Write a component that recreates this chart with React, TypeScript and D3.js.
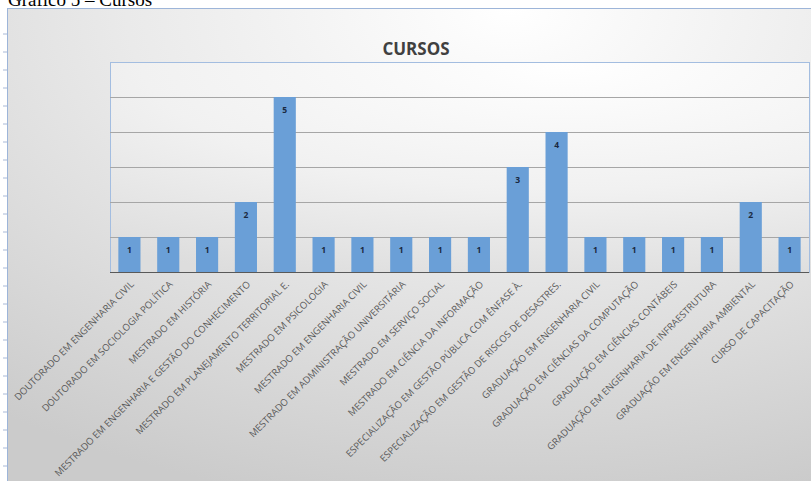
import React from "react";
import * as d3 from "d3";

const categories = [
  "DOUTORADO EM ENGENHARIA CIVIL",
  "DOUTORADO EM SOCIOLOGIA POLÍTICA",
  "MESTRADO EM HISTÓRIA",
  "MESTRADO EM ENGENHARIA E GESTÃO DO CONHECIMENTO",
  "MESTRADO EM PLANEJAMENTO TERRITORIAL E.",
  "MESTRADO EM PSICOLOGIA",
  "MESTRADO EM ENGENHARIA CIVIL",
  "MESTRADO EM ADMINISTRAÇÃO UNIVERSITÁRIA",
  "MESTRADO EM SERVIÇO SOCIAL",
  "MESTRADO EM CIÊNCIA DA INFORMAÇÃO",
  "ESPECIALIZAÇÃO EM GESTÃO PÚBLICA COM ÊNFASE À.",
  "ESPECIALIZAÇÃO EM GESTÃO DE RISCOS DE DESASTRES.",
  "GRADUAÇÃO EM ENGENHARIA CIVIL",
  "GRADUAÇÃO EM CIÊNCIAS DA COMPUTAÇÃO",
  "GRADUAÇÃO EM CIÊNCIAS CONTÁBEIS",
  "GRADUAÇÃO EM ENGENHARIA DE INFRAESTRUTURA",
  "GRADUAÇÃO EM ENGENHARIA AMBIENTAL",
  "CURSO DE CAPACITAÇÃO",
];
const values = [1, 1, 1, 2, 5, 1, 1, 1, 1, 1, 3, 4, 1, 1, 1, 1, 2, 1];
const yTicks = [0, 1, 2, 3, 4, 5, 6];
const chartTitle = "CURSOS";
const caption = "Gráfico 5 – Cursos";

const W = 811;
const H = 481;
const plot = { left: 110, right: 809, top: 62, bottom: 272 };

export default function App() {
  const x = d3
    .scaleBand<string>()
    .domain(categories)
    .range([plot.left, plot.right])
    .paddingInner(0.43)
    .paddingOuter(0.215);
  const y = d3.scaleLinear().domain([0, 6]).range([plot.bottom, plot.top]);
  const leftTicks = d3.range(34, 481, 18);

  return (
    <div style={{ position: "fixed", left: 0, top: 0, width: W, height: H, background: "#fff" }}>
      <svg width={W} height={H} style={{ display: "block" }}>
        <defs>
          <radialGradient id="bgGrad" cx="0.62" cy="0" r="1.05" fx="0.62" fy="0">
            <stop offset="0" stopColor="#ffffff" />
            <stop offset="0.45" stopColor="#eaeaea" />
            <stop offset="1" stopColor="#cbcbcb" />
          </radialGradient>
          <radialGradient id="plotGrad" cx="0.65" cy="0" r="1.1" fx="0.65" fy="0">
            <stop offset="0" stopColor="#ffffff" />
            <stop offset="0.55" stopColor="#f1f1f1" />
            <stop offset="1" stopColor="#dddddd" />
          </radialGradient>
        </defs>
        <text x={8} y={6} fontFamily="'Liberation Serif', 'Times New Roman', serif" fontSize={19} fill="#000">
          {caption}
        </text>
        {leftTicks.map((t) => (
          <line key={t} x1={3} x2={7} y1={t} y2={t} stroke="#a9b9d6" strokeWidth={1} />
        ))}
        <rect x={7.5} y={8.5} width={W} height={H} fill="url(#bgGrad)" stroke="#9db5d9" strokeWidth={1} />
        <rect
          x={plot.left + 0.5}
          y={plot.top + 0.5}
          width={plot.right - plot.left}
          height={plot.bottom - plot.top}
          fill="url(#plotGrad)"
          stroke="#a3bde0"
          strokeWidth={1}
        />
        {yTicks.slice(1, -1).map((t) => (
          <line
            key={t}
            x1={plot.left}
            x2={plot.right}
            y1={Math.round(y(t)) + 0.5}
            y2={Math.round(y(t)) + 0.5}
            stroke="#a6a6a6"
            strokeWidth={1}
          />
        ))}
        {categories.map((c, i) => (
          <rect
            key={c}
            x={x(c)}
            y={y(values[i])}
            width={x.bandwidth()}
            height={plot.bottom - y(values[i])}
            fill="#6a9fd7"
          />
        ))}
        <line x1={plot.left} x2={plot.right} y1={plot.bottom + 0.5} y2={plot.bottom + 0.5} stroke="#595959" strokeWidth={1} />
        {categories.map((c, i) => (
          <text
            key={"v" + c}
            x={(x(c) as number) + x.bandwidth() / 2}
            y={y(values[i]) + 15.5}
            textAnchor="middle"
            fontFamily="'Open Sans', sans-serif"
            fontWeight="bold"
            fontSize={8.5}
            fill="#1a2940"
          >
            {values[i]}
          </text>
        ))}
        {categories.map((c) => {
          const cx = (x(c) as number) + x.bandwidth() / 2 + 5;
          const cy = plot.bottom + 13;
          return (
            <text
              key={"l" + c}
              transform={`translate(${cx},${cy}) rotate(-45)`}
              textAnchor="end"
              fontFamily="'Open Sans', sans-serif"
              fontSize={9.6}
              fill="#595959"
            >
              {c}
            </text>
          );
        })}
        <text
          x={416}
          y={55}
          textAnchor="middle"
          fontFamily="'Open Sans', sans-serif"
          fontWeight="bold"
          fontSize={17}
          fill="#404040"
        >
          {chartTitle}
        </text>
      </svg>
    </div>
  );
}
